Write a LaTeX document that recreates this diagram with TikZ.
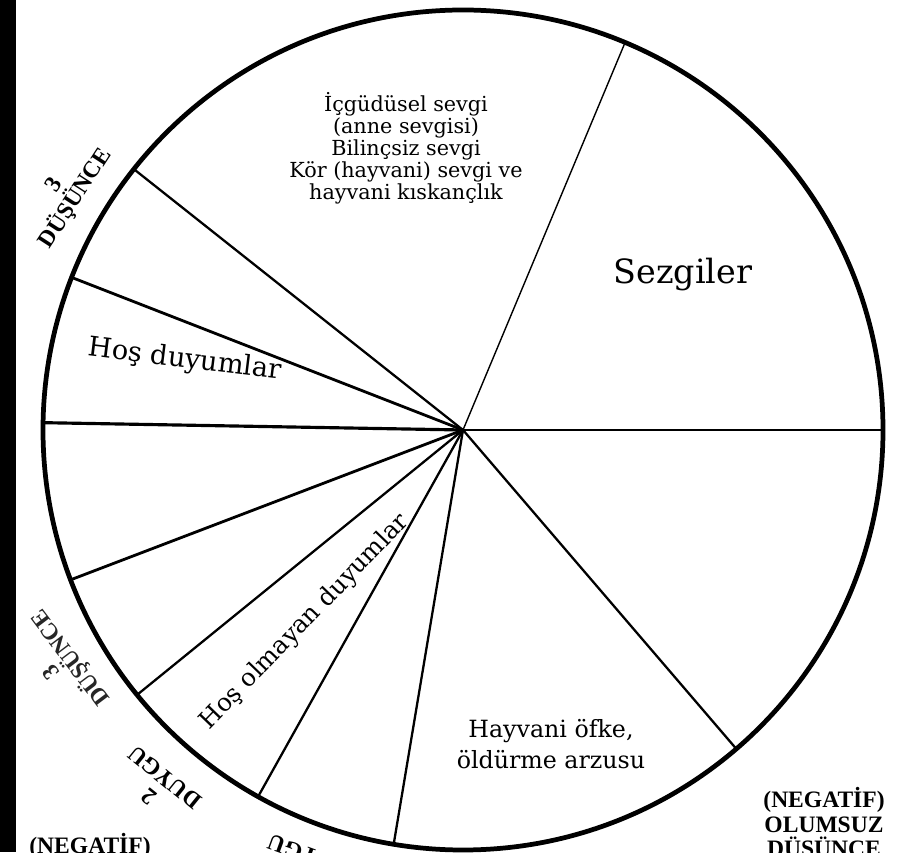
\documentclass[tikz,border=0pt]{standalone}
\usepackage{fontspec}
\setmainfont{DejaVu Serif}
\newfontfamily\tagfont{Liberation Serif}
\usetikzlibrary{calc}
\tikzset{
  rim/.style={line width=2.7pt},
  spoke/.style={line width=1.3pt},
  sector/.style={align=center,inner sep=0pt},
  tag/.style={font=\tagfont\bfseries\fontsize{13.4}{14}\selectfont,
    align=center,inner sep=0pt}
}

\begin{document}
\begin{tikzpicture}[x=0.02cm,y=0.02cm]
\useasboundingbox (0,0) rectangle (899,852);
\fill[black] (0,0) rectangle (16,852);

% centre and spokes
\coordinate (c) at (463,422);
\coordinate (s1) at ($(c)+(67.3:420)$);
\coordinate (s2) at ($(c)+(0:420)$);
\coordinate (s3) at ($(c)+(-49.4:420)$);
\coordinate (s4) at ($(c)+(-99.5:420)$);
\coordinate (s5) at ($(c)+(-119.2:420)$);
\coordinate (s6) at ($(c)+(-140.9:420)$);
\coordinate (s7) at ($(c)+(-159.1:420)$);
\coordinate (s8) at ($(c)+(179:420)$);
\coordinate (s9) at ($(c)+(158.7:420)$);
\coordinate (s10) at ($(c)+(141.6:420)$);

\draw[spoke,line width=0.8pt] (c) -- (s1);
\draw[spoke] (c) -- (s2);
\draw[spoke] (c) -- (s3);
\draw[spoke] (c) -- (s4);
\draw[spoke] (c) -- (s5);
\draw[spoke] (c) -- (s6);
\draw[spoke,line width=1.6pt] (c) -- (s7);
\draw[spoke,line width=1.8pt] (c) -- (s8);
\draw[spoke,line width=1.6pt] (c) -- (s9);
\draw[spoke] (c) -- (s10);
\draw[rim] (c) circle (420);

% sector texts
\node[sector,font=\fontsize{11.8}{12.5}\selectfont] (instinct) at (406,704)
  {İçgüdüsel sevgi\\(anne sevgisi)\\Bilinçsiz sevgi\\Kör (hayvani) sevgi ve\\hayvani kıskançlık};
\node[sector,font=\fontsize{19}{22}\selectfont] (intuition) at (683,577) {Sezgiler};
\node[sector,font=\fontsize{15.5}{18}\selectfont,rotate=-7] (pleasant) at (185,492)
  {Hoş duyumlar};
\node[sector,font=\fontsize{14}{16}\selectfont,rotate=46] (unpleasant) at (305,230)
  {Hoş olmayan duyumlar};
\node[sector,font=\fontsize{13.5}{18}\selectfont] (anger) at (551,108)
  {Hayvani öfke,\\öldürme arzusu};

% outer labels
\node[tag,rotate=57] (thought) at (66,660) {3\\DÜŞÜNCE};
\node[tag,rotate=127,text=black!85] (thoughtlow) at (62,188) {3\\DÜŞÜNCE};
\node[tag,rotate=141] (feeling) at (157,65) {2\\DUYGU};
\node[tag,rotate=160] (feelinglow) at (309,-4) {DUYGU};
\node[tag,anchor=north] (negleft) at (90,19) {(NEGATİF)};
\node[tag,anchor=north] (negright) at (824,65) {(NEGATİF)\\OLUMSUZ\\DÜŞÜNCE};

\end{tikzpicture}
\end{document}
